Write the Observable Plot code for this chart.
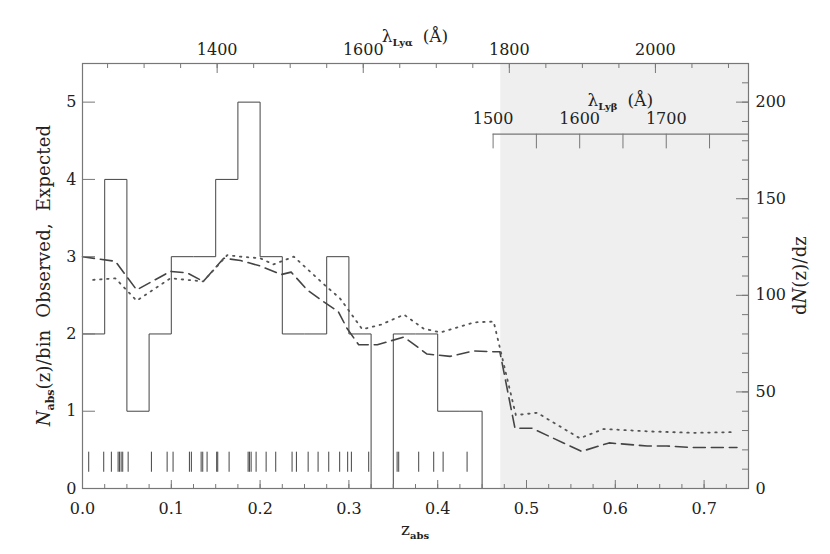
<!DOCTYPE html>
<html>
<head>
<meta charset="utf-8">
<script src="https://cdn.jsdelivr.net/npm/d3@7"></script>
<script src="https://cdn.jsdelivr.net/npm/@observablehq/plot@0.6"></script>
<style>
  html, body { margin: 0; padding: 0; background: #fff; }
</style>
</head>
<body>
<script>
// ---------------- data ----------------
// Observed histogram: bin starts (z) and counts per bin (bin width 0.025)
const binStart = [0, 0.025, 0.05, 0.075, 0.1, 0.125, 0.15, 0.175, 0.2, 0.225, 0.25, 0.275, 0.3, 0.325, 0.35, 0.375, 0.4, 0.425, 0.45];
const binCount = [2, 4, 1, 2, 3, 3, 4, 5, 3, 2, 2, 3, 2, 0, 2, 2, 1, 1, 0];
const binWidth = 0.025;

// Individual absorber redshifts (rug)
const rugZ = [0.0070, 0.0239, 0.0325, 0.0401, 0.0416, 0.0435, 0.0453, 0.0514, 0.0776, 0.0953,
  0.1020, 0.1204, 0.1226, 0.1336, 0.1354, 0.1403, 0.1511, 0.1523, 0.1651, 0.1865, 0.1880,
  0.1899, 0.1955, 0.2068, 0.2176, 0.2360, 0.2409, 0.2541, 0.2653, 0.2773, 0.2896, 0.2986,
  0.3028, 0.3223, 0.3543, 0.3561, 0.3786, 0.3955, 0.4061, 0.4331];

// Expected (dashed model)
const dashedZ = [0.000, 0.037, 0.061, 0.099, 0.118, 0.136, 0.159, 0.178, 0.200, 0.224, 0.235, 0.253,
  0.271, 0.288, 0.298, 0.311, 0.332, 0.362, 0.388, 0.414, 0.440, 0.463, 0.470, 0.487, 0.506,
  0.562, 0.593, 0.636, 0.658, 0.688, 0.737];
const dashedN = [3.00, 2.94, 2.57, 2.81, 2.79, 2.68, 2.98, 2.95, 2.88, 2.77, 2.80, 2.57,
  2.42, 2.29, 2.07, 1.86, 1.86, 1.96, 1.74, 1.71, 1.78, 1.77, 1.77, 0.78, 0.78,
  0.48, 0.59, 0.55, 0.55, 0.53, 0.53];

// Expected (dotted model)
const dottedZ = [0.012, 0.037, 0.061, 0.099, 0.136, 0.163, 0.178, 0.200, 0.215, 0.238, 0.275,
  0.290, 0.302, 0.315, 0.336, 0.362, 0.384, 0.403, 0.441, 0.463, 0.488, 0.512, 0.560,
  0.587, 0.636, 0.688, 0.733];
const dottedN = [2.70, 2.72, 2.43, 2.72, 2.68, 3.02, 3.00, 2.98, 2.90, 3.00, 2.61,
  2.46, 2.27, 2.06, 2.12, 2.25, 2.07, 2.02, 2.15, 2.16, 0.95, 0.98, 0.65,
  0.77, 0.74, 0.72, 0.73];

// Axis ticks
const xMajorTicks = [0, 0.1, 0.2, 0.3, 0.4, 0.5, 0.6, 0.7];
const xMinorTicks = d3.range(0, 0.751, 0.025);
const yLeftTicks = [0, 1, 2, 3, 4, 5];
const yRightTicks = [0, 50, 100, 150, 200];       // dN/dz
const yRightMinor = d3.range(0, 211, 10);
const lyaLabels = [1400, 1600, 1800, 2000];         // Angstrom
const lyaMinor = d3.range(1250, 2101, 50);
const lybLabels = [1500, 1600, 1700];
const lybMinor = d3.range(1500, 1751, 50);

const LYA = 1215.67, LYB = 1025.72;
const shadeStartZ = 0.471;
const zMax = 0.75, yMax = 5.5;
const dndzPerBin = 40;  // right axis: dN/dz = 40 x N per bin
const lybAxisY = 4.585;

// --------------- layout ---------------
const W = 830, H = 554;
const mT = 63, mR = 82, mB = 66, mL = 82;
const frameH = H - mT - mB, frameW = W - mL - mR;
const FONT = "DejaVu Serif";
const AX = "#777";

const histPts = binStart.map((z, i) => ({z, n: binCount[i]}));
histPts.push({z: binStart[binStart.length - 1] + binWidth, n: binCount[binCount.length - 1]});
const dashed = dashedZ.map((z, i) => ({z, n: dashedN[i]}));
const dotted = dottedZ.map((z, i) => ({z, n: dottedN[i]}));
const toZa = l => l / LYA - 1;
const toZb = l => l / LYB - 1;

const svg = Plot.plot({
  width: W, height: H,
  marginTop: mT, marginRight: mR, marginBottom: mB, marginLeft: mL,
  x: {domain: [0, zMax]},
  y: {domain: [0, yMax]},
  style: {fontFamily: FONT, fontSize: "16px", background: "#fff", color: "#222"},
  marks: [
    Plot.rect([{a: shadeStartZ, b: zMax}], {x1: "a", x2: "b", y1: 0, y2: yMax, fill: "#efefef"}),
    // histogram
    Plot.line(histPts, {x: "z", y: "n", curve: "step-after", stroke: "#444", strokeWidth: 1}),
    // rug
    Plot.ruleX(rugZ, {y1: 0.21, y2: 0.47, stroke: "#444", strokeWidth: 1}),
    // expected curves
    Plot.line(dashed, {x: "z", y: "n", stroke: "#444", strokeWidth: 1.6, strokeDasharray: "12,6"}),
    Plot.line(dotted, {x: "z", y: "n", stroke: "#555", strokeWidth: 1.8, strokeDasharray: "1.5,5.5"}),
    Plot.frame({stroke: AX, strokeWidth: 1.2}),
    // bottom ticks (inward)
    Plot.tickX(xMajorTicks, {insetTop: frameH - 8, stroke: AX}),
    Plot.tickX(xMinorTicks, {insetTop: frameH - 4, stroke: AX}),
    // top ticks (Ly alpha wavelength)
    Plot.tickX(lyaMinor.map(toZa), {insetBottom: frameH - 5, stroke: AX}),
    Plot.tickX(lyaLabels.map(toZa), {insetBottom: frameH - 10, stroke: AX}),
    // left ticks
    Plot.tickY(yLeftTicks, {insetRight: frameW - 13, stroke: AX}),
    // right ticks
    Plot.tickY(yRightMinor.map(d => d / dndzPerBin), {insetLeft: frameW - 6, stroke: AX}),
    Plot.tickY(yRightTicks.map(d => d / dndzPerBin), {insetLeft: frameW - 12, stroke: AX}),
    // Ly beta inner axis
    Plot.ruleY([lybAxisY], {x1: toZb(lybLabels[0]), x2: zMax, stroke: AX, strokeWidth: 1.2}),
    Plot.ruleX(lybMinor.map(toZb), {y1: lybAxisY, y2: lybAxisY - 0.19, stroke: AX}),
    Plot.text(lybLabels, {x: toZb, y: lybAxisY, dy: -15, text: d => String(d), fontSize: 16, fill: "#222"}),
    // axes labels
    Plot.axisX(xMajorTicks, {anchor: "bottom", label: null, tickSize: 0, tickPadding: 14, tickFormat: d => d.toFixed(1), fontSize: 16}),
    Plot.axisX(lyaLabels.map(toZa), {anchor: "top", label: null, tickSize: 0, tickPadding: 9, tickFormat: d => String(Math.round(LYA * (1 + d) / 10) * 10), fontSize: 16}),
    Plot.axisY(yLeftTicks, {anchor: "left", label: null, tickSize: 0, tickPadding: 6, tickFormat: d => String(d), fontSize: 16}),
    Plot.axisY(yRightTicks.map(d => d / dndzPerBin), {anchor: "right", label: null, tickSize: 0, tickPadding: 7, tickFormat: d => String(Math.round(d * dndzPerBin)), fontSize: 16})
  ]
});

document.body.appendChild(svg);

// --------------- axis titles (with subscripts) ---------------
const s = d3.select(svg);
const cx = mL + frameW / 2;
const cy = mT + frameH / 2;

function title(x, y, rot, parts, anchor = "middle") {
  const t = s.append("text")
    .attr("transform", `translate(${x},${y}) rotate(${rot})`)
    .attr("text-anchor", anchor)
    .attr("font-family", FONT)
    .attr("fill", "#222");
  parts.forEach(p => {
    const ts = t.append("tspan").text(p.t).attr("font-size", p.size || 17);
    if (p.dy) ts.attr("dy", p.dy);
    if (p.italic) ts.attr("font-style", "italic");
    if (p.bold) ts.attr("font-weight", "bold");
    if (p.dx) ts.attr("dx", p.dx);
    if (p.ls) ts.attr("letter-spacing", p.ls);
  });
}

// bottom: z_abs
title(cx, 535, 0, [{t: "z", size: 17}, {t: "abs", size: 10, dy: 4, bold: true}]);
// top: lambda_Lya (A)
title(cx, 42, 0, [{t: "λ", size: 17}, {t: "Lyα", size: 10, dy: 4, bold: true}, {t: "(Å)", size: 17, dy: -4, dx: 10}]);
// inner: lambda_Lyb (A)
const xs = Plot.scale({x: {domain: [0, zMax], range: [mL, W - mR]}});
const lybCx = (xs.apply(toZb(lybLabels[0])) + (W - mR)) / 2;
title(lybCx, 106, 0, [{t: "λ", size: 17}, {t: "Lyβ", size: 10, dy: 4, bold: true}, {t: "(Å)", size: 17, dy: -4, dx: 10}]);
// left
title(50, cy, -90, [{t: "N", size: 18, italic: true}, {t: "abs", size: 11, dy: 4, bold: true}, {t: "(z)/bin  Observed,  Expected", size: 18, dy: -4, ls: 0.2}]);
// right
title(806, cy, -90, [{t: "d", size: 18}, {t: "N", size: 18, italic: true}, {t: "(z)/dz", size: 18, ls: 0.2}]);
</script>
</body>
</html>
